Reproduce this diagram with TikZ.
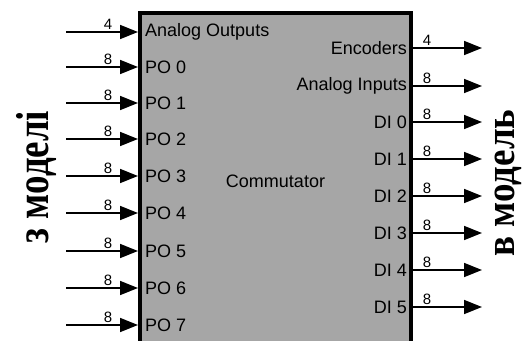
\documentclass[tikz,border=0pt]{standalone}
\usepackage{graphicx}
\usepackage{fontspec}
\setmainfont{Liberation Sans}
\newfontfamily\cyrserif{Liberation Serif}
\usetikzlibrary{arrows.meta}
\definecolor{boxgray}{RGB}{166,166,166}
\newcommand{\tallcap}[2][1.25]{\scalebox{1}[#1]{#2}}
\tikzset{
  port/.style={font=\fontsize{18}{18}\selectfont, inner sep=0pt},
  width/.style={font=\fontsize{15}{15}\selectfont, inner sep=1pt, anchor=south},
  sig/.style={line width=1.6pt, -{Triangle[length=18pt,width=14pt]}},
  side/.style={font=\cyrserif\bfseries\fontsize{37}{37}\selectfont, rotate=90, anchor=base, inner sep=0pt},
}
\begin{document}
\begin{tikzpicture}[x=1pt,y=-1pt]
\useasboundingbox (0,0) rectangle (522,340);
\clip (0,0) rectangle (522,340);

% the commutator block (runs past the lower edge)
\node[draw, fill=boxgray, line width=3.5pt, minimum width=271pt, minimum height=336pt,
      inner sep=0pt, font=\fontsize{18}{18}\selectfont] (comm) at (275.5,181) {Commutator};

% inputs on the left side
\foreach \name/\lab/\w/\y in {ao/Analog Outputs/4/32, po0/PO 0/8/67, po1/PO 1/8/103,
    po2/PO 2/8/139, po3/PO 3/8/176, po4/PO 4/8/213, po5/PO 5/8/251,
    po6/PO 6/8/288, po7/PO 7/8/325}{
  \node[port, anchor=west] (\name) at (145,\y) {\lab};
  \coordinate (\name-src) at (66,\y);
  \coordinate (\name-end) at (138,\y);
  \draw[sig] (\name-src) -- (\name-end);
  \node[width] (\name-w) at (108,\y-1) {\w};
}

% outputs on the right side
\foreach \name/\lab/\w/\y in {enc/Encoders/4/48, ai/Analog Inputs/8/86, di0/DI 0/8/122,
    di1/DI 1/8/159, di2/DI 2/8/196, di3/DI 3/8/233, di4/DI 4/8/270, di5/DI 5/8/307}{
  \node[port, anchor=east] (\name) at (407,\y) {\lab};
  \coordinate (\name-src) at (comm.east |- \name);
  \coordinate (\name-dst) at (482,\y);
  \draw[sig] (\name-src) -- (\name-dst);
  \node[width] (\name-w) at (427,\y-1) {\w};
}

% side captions
\node[side] (from) at (48,177) {\tallcap{з моделі}};
\node[side] (to) at (514,183) {\tallcap[1.12]{в модель}};
\end{tikzpicture}
\end{document}
